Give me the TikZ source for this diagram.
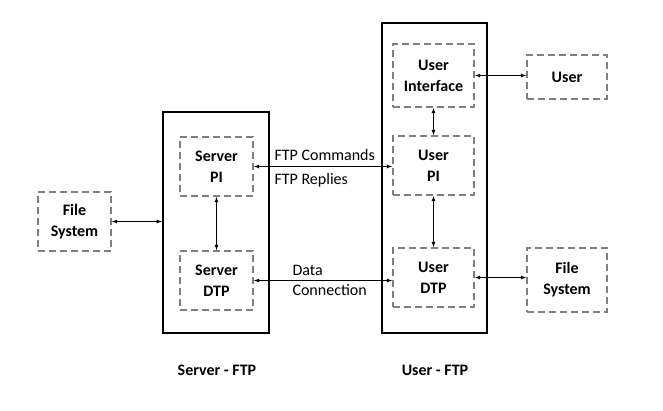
\documentclass[tikz,border=0pt]{standalone}
\usepackage{fontspec}
\setmainfont{Carlito}
\usetikzlibrary{arrows}
\tikzset{
  part/.style={draw=gray, line width=1.8pt, dash pattern=on 7pt off 4pt, align=center, font=\fontsize{16}{21}\selectfont\bfseries, inner sep=0pt},
  side/.style={draw=black, line width=2.2pt, inner sep=0pt},
  link/.style={<->, >=latex, line width=0.8pt}
}
\begin{document}
\begin{tikzpicture}[x=1pt, y=-1pt, font=\fontsize{16}{21}\selectfont]
\useasboundingbox (0,0) rectangle (663,410);
% outer boxes
\node[side, minimum width=106pt, minimum height=221pt] (srv) at (216,222.5) {};
\node[side, minimum width=105pt, minimum height=310pt] (usr) at (434.5,178) {};
% server side
\node[part, minimum width=73pt, minimum height=59pt] (spi) at (216.5,166.5) {Server\\PI};
\node[part, minimum width=73pt, minimum height=59pt] (sdtp) at (216.5,280.5) {Server\\DTP};
\node[part, minimum width=73pt, minimum height=59pt] (lfs) at (74.5,221.5) {File\\System};
% user side
\node[part, minimum width=81pt, minimum height=63pt] (ui) at (433.5,75.5) {User\\Interface};
\node[part, minimum width=81pt, minimum height=59pt] (upi) at (433.5,165.5) {User\\PI};
\node[part, minimum width=81pt, minimum height=59pt] (udtp) at (433.5,277.5) {User\\DTP};
\node[part, minimum width=80pt, minimum height=44pt] (user) at (567,77) {User};
\node[part, minimum width=80pt, minimum height=64pt] (rfs) at (567,280) {File\\System};
% connectors
\draw[link] (lfs.east) -- (lfs.east -| srv.west);
\draw[link] (spi) -- (sdtp);
\draw[link] (spi.east) -- (spi.east -| upi.west);
\draw[link] (sdtp.east) -- (sdtp.east -| udtp.west);
\draw[link] (ui.east) -- (ui.east -| user.west);
\draw[link] (ui) -- (upi);
\draw[link] (upi) -- (udtp);
\draw[link] (udtp.east) -- (udtp.east -| rfs.west);
% labels
\node[anchor=west] (cmd) at (271,155) {FTP Commands};
\node[anchor=west] (rep) at (271,180) {FTP Replies};
\node[anchor=west] (dat) at (289,270) {Data};
\node[anchor=west] (con) at (289,290) {Connection};
\node[font=\fontsize{16}{21}\selectfont\bfseries] (stag) at (217,370) {Server - FTP};
\node[font=\fontsize{16}{21}\selectfont\bfseries] (utag) at (435,370) {User - FTP};
\end{tikzpicture}
\end{document}
